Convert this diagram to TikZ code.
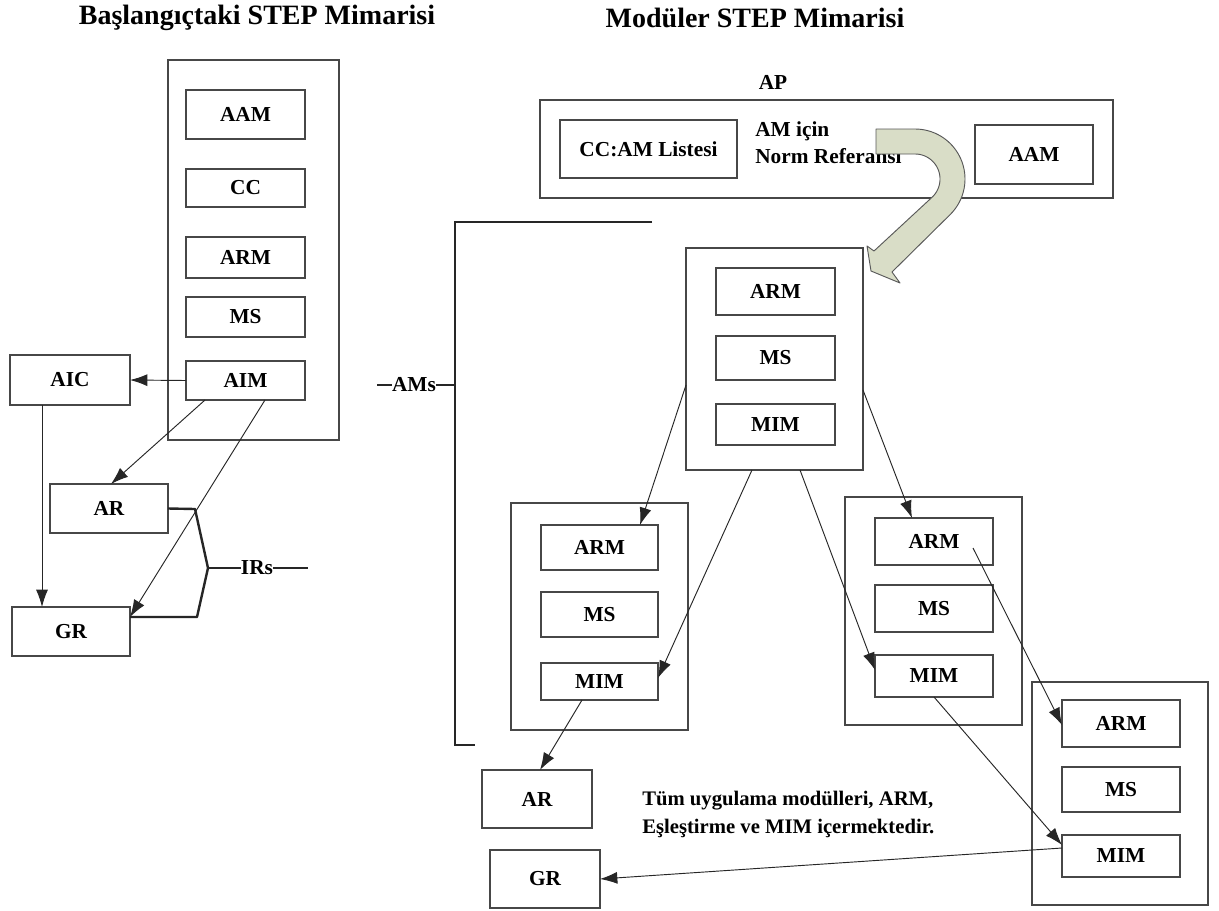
\documentclass[tikz,border=0pt]{standalone}
\usepackage{fontspec}
\setmainfont{Liberation Serif}
\usetikzlibrary{arrows.meta,calc}
% box given by its corners (x1,y1) and (x2,y2), y growing downwards
\newcommand\boxat[6]{\node[bxs, minimum width={(#4-#2)*0.75pt}, minimum height={(#5-#3)*0.75pt}] (#1) at ({(#2+#4)/2},{(#3+#5)/2}) {#6};}
\begin{document}
\begin{tikzpicture}[x=0.75pt,y=-0.75pt,
  bxs/.style={draw=black!72, line width=0.9pt, inner sep=0pt, outer sep=0pt,
              font=\bfseries\fontsize{16}{18}\selectfont},
  lbl/.style={inner sep=0pt, font=\bfseries\fontsize{16}{20}\selectfont},
  ttl/.style={inner sep=0pt, font=\bfseries\fontsize{21}{24}\selectfont},
  arr/.style={draw=black!85, line width=0.7pt, -{Latex[length=13pt,width=9pt]}},
  brk/.style={draw=black!85, line width=1.8pt},
  bigarrow/.style={draw=black!65, line width=0.7pt, fill={rgb,255:red,217;green,221;blue,199}}]
\fill[white] (0,0) rectangle (1219,910);
\useasboundingbox (0,0) rectangle (1219,910);

% ---------- titles ----------
\node[ttl] (t1) at (257,18) {Başlangıçtaki STEP Mimarisi};
\node[ttl] (t2) at (755,18) {Modüler STEP Mimarisi};

% ---------- initial architecture ----------
\boxat{lbox}{168}{60}{339}{440}{}
\boxat{laam}{186}{90}{305}{139}{AAM}
\boxat{lcc}{186}{169}{305}{207}{CC}
\boxat{larm}{186}{237}{305}{278}{ARM}
\boxat{lms}{186}{297}{305}{337}{MS}
\boxat{laim}{186}{361}{305}{400}{AIM}
\boxat{aic}{10}{355}{130}{405}{AIC}
\boxat{lar}{50}{484}{168}{533}{AR}
\boxat{lgr}{12}{607}{130}{656}{GR}

\draw[arr] (laim.west) -- (aic.east);
\draw[arr] ($(aic.south west)+(32,0)$) coordinate (c1) -- (c1 |- lgr.north);
\draw[arr] ($(laim.south west)+(19,0)$) -- ($(lar.north west)+(61,0)$);
\draw[arr] ($(laim.south west)+(79,0)$) -- ($(lgr.north east)+(0,10)$);

% IRs brace
\draw[brk, line join=round] (lar.east) -- (195,509) -- (208,568) coordinate (irs)
      -- (197,617) -- ($(lgr.north east)+(0,10)$);
\node[lbl] (irslbl) at (257,568) {IRs};
\draw[brk, line width=1.4pt] (irs) -- (irslbl.west);
\draw[brk, line width=1.4pt] (irslbl.east) -- (308,568);

% ---------- modular architecture ----------
\node[lbl] (aplbl) at (773,82) {AP};
\boxat{apbox}{540}{100}{1113}{198}{}
\boxat{cclist}{560}{120}{737}{178}{CC:AM Listesi}
\node[lbl, anchor=west, align=left] (normref) at (755,143) {AM için\\Norm Referansı};
\boxat{raam}{975}{125}{1093}{184}{AAM}

% AMs bracket
\draw[brk] (652,222) -- (455,222) -- (455,745) -- (475,745);
\node[lbl] (amslbl) at (414,385) {AMs};
\draw[brk, line width=1.4pt] (377,385) -- (amslbl.west);
\draw[brk, line width=1.4pt] (amslbl.east) -- (455,385);

% module in the middle
\boxat{mbox}{686}{248}{863}{470}{}
\boxat{marm}{716}{268}{835}{315}{ARM}
\boxat{mms}{716}{336}{835}{380}{MS}
\boxat{mmim}{716}{404}{835}{445}{MIM}

% module on the left
\boxat{abox}{511}{503}{688}{730}{}
\boxat{aarm}{541}{525}{658}{570}{ARM}
\boxat{ams}{541}{592}{658}{637}{MS}
\boxat{amim}{541}{663}{658}{700}{MIM}

% module on the right
\boxat{bbox}{845}{497}{1022}{725}{}
\boxat{barm}{875}{518}{993}{565}{ARM}
\boxat{bms}{875}{585}{993}{632}{MS}
\boxat{bmim}{875}{655}{993}{697}{MIM}

% module at the bottom right
\boxat{cbox}{1032}{682}{1208}{905}{}
\boxat{carm}{1062}{700}{1180}{747}{ARM}
\boxat{cms}{1062}{767}{1180}{812}{MS}
\boxat{cmim}{1062}{835}{1180}{877}{MIM}

\boxat{rar}{482}{770}{592}{828}{AR}
\boxat{rgr}{490}{850}{600}{908}{GR}

\node[lbl, anchor=west, align=left, font=\bfseries\fontsize{15.5}{21}\selectfont] (note) at (642,814)
  {Tüm uygulama modülleri, ARM,\\Eşleştirme ve MIM içermektedir.};

% curved arrow from the norm reference to the modules
\draw[bigarrow, line join=round] (876,129)
  -- plot[domain=-90:45, samples=40] ({915+50*cos(\x)},{179+50*sin(\x)})
  -- (892,272) -- (900,283) -- (871,271) -- (867,246) -- (874,251)
  -- plot[domain=45:-90, samples=40] ({915+25*cos(\x)},{179+25*sin(\x)})
  -- (876,154) -- cycle;

% connectors between modules
\draw[arr] ($(mbox.north west)+(0,137)$) -- ($(aarm.north west)+(99,0)$);
\draw[arr] ($(mbox.south west)+(66,0)$) -- ($(amim.north east)+(0,15)$);
\draw[arr] ($(mbox.south west)+(114,0)$) -- ($(bmim.north west)+(0,15)$);
\draw[arr] ($(mbox.north east)+(0,142)$) -- ($(barm.north west)+(37,0)$);
\draw[arr] ($(barm.south east)+(-20,-17)$) -- ($(carm.north west)+(0,25)$);
\draw[arr] (bmim.south) -- ($(cmim.north west)+(0,10)$);
\draw[arr] ($(cmim.north west)+(0,13)$) -- (rgr.east);
\draw[arr] ($(amim.south west)+(41,0)$) -- ($(rar.north west)+(58,0)$);
\end{tikzpicture}
\end{document}
